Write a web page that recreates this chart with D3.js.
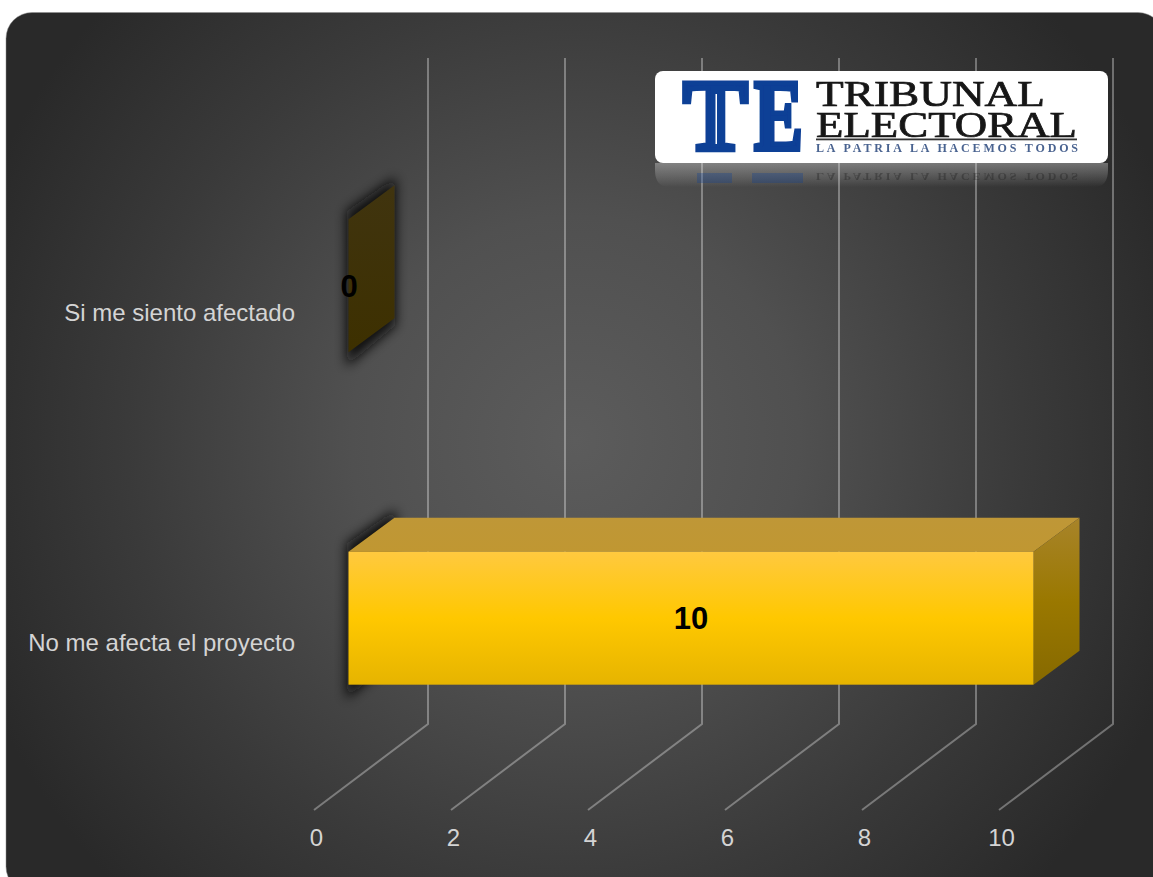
<!DOCTYPE html>
<html><head><meta charset="utf-8">
<script src="https://cdn.jsdelivr.net/npm/d3@7/dist/d3.min.js"></script>
<style>html,body{margin:0;padding:0;background:#fff;overflow:hidden}svg{display:block}</style>
</head><body><svg id="c" width="1153" height="877"></svg>
<script>
const categories = ["Si me siento afectado", "No me afecta el proyecto"];
const values = [0, 10];
const xTickValues = [0, 2, 4, 6, 8, 10];
const logoLines = ["TRIBUNAL", "ELECTORAL"];
const logoTagline = "LA PATRIA LA HACEMOS TODOS";

const svg = d3.select("#c");
const defs = svg.append("defs");
function grad(id, stops) {
  const g = defs.append("linearGradient").attr("id", id).attr("x1", 0).attr("y1", 0).attr("x2", 0).attr("y2", 1);
  stops.forEach(s => g.append("stop").attr("offset", s[0]).attr("stop-color", s[1]).attr("stop-opacity", s[2] ?? 1));
}
const bgG = defs.append("radialGradient").attr("id", "bg").attr("gradientUnits", "userSpaceOnUse")
  .attr("cx", 575).attr("cy", 440).attr("r", 640);
[[0, "#5c5c5c"], [0.35, "#505050"], [0.7, "#3a3a3a"], [1, "#292929"]].forEach(s => bgG.append("stop").attr("offset", s[0]).attr("stop-color", s[1]));
grad("front", [[0, "#ffc93f"], [0.5, "#ffc800"], [1, "#e6b400"]]);
grad("right", [[0, "#a8842a"], [0.5, "#9a7800"], [1, "#866900"]]);
grad("top", [[0, "#bf9737"], [1, "#c09732"]]);
grad("side", [[0, "#40340f"], [1, "#3d3000"]]);
defs.append("filter").attr("id", "blur").attr("x", "-80%").attr("y", "-50%").attr("width", "260%").attr("height", "200%")
  .append("feGaussianBlur").attr("stdDeviation", 6);
defs.append("filter").attr("id", "soft").append("feGaussianBlur").attr("stdDeviation", 0.4);

svg.append("rect").attr("x", 6).attr("y", 12.5).attr("width", 1158).attr("height", 880).attr("rx", 26)
  .attr("fill", "url(#bg)").attr("stroke", "#8c8c8c").attr("stroke-width", 0.5);

const barX0 = 348.5, plotW = 685;
const depthBar = { dx: 46, dy: -34 };
const x = d3.scaleLinear().domain([0, 10]).range([barX0, barX0 + plotW]);
const y = d3.scaleBand().domain(categories).range([119.6, 784.4]).paddingInner(0.6).paddingOuter(0.3);
const yLabels = d3.scaleBand().domain(categories).range([148, 808]).paddingInner(0.6).paddingOuter(0.3);

const gridBackTop = 58, gridBackBot = 724, gridFrontY = 810;
const gridFront = v => x(v) - 34.5, gridBack = v => x(v) + 79.5;
svg.append("g").selectAll("path").data(xTickValues).join("path")
  .attr("d", v => d3.line()([[gridFront(v), gridFrontY], [gridBack(v), gridBackBot], [gridBack(v), gridBackTop]]))
  .attr("fill", "none").attr("stroke", "#fff").attr("stroke-opacity", 0.33).attr("stroke-width", 2);

const axX = svg.append("g").attr("transform", `translate(-32.5,838)`)
  .call(d3.axisBottom(x).tickValues(xTickValues).tickSize(0).tickPadding(0).tickFormat(d3.format("d")));
axX.select(".domain").remove();
axX.selectAll("text").attr("dy", "0.35em");
const axY = svg.append("g").attr("transform", `translate(295,0)`)
  .call(d3.axisLeft(yLabels).tickSize(0).tickPadding(0));
axY.select(".domain").remove();
svg.selectAll("g text").attr("font-family", "'Liberation Sans',Arial,sans-serif").attr("font-size", 24).attr("fill", "#d4d4d4");

const poly = pts => d3.line()(pts) + "Z";
const rows = categories.map((c, i) => ({ c, v: values[i] }));
const bars = svg.append("g").selectAll("g").data(rows).join("g");
const bw = y.bandwidth(), D = depthBar;
const sidePts = d => {
  const t = y(d.c), l = x(0);
  return [[l, t], [l + D.dx, t + D.dy], [l + D.dx, t + bw + D.dy], [l, t + bw]];
};
bars.append("path").attr("d", d => {
    const p = sidePts(d);
    return poly([[p[0][0] - 2, p[0][1] - 8], [p[1][0] + 1, p[1][1] - 8], [p[2][0] + 1, p[2][1] + 7], [p[3][0] - 2, p[3][1] + 14]]);
  })
  .attr("fill", "#0c0c0c").attr("opacity", 0.95).attr("filter", "url(#blur)");
bars.append("path").attr("d", d => poly(sidePts(d))).attr("fill", "url(#side)");
const live = bars.filter(d => d.v > 0);
live.append("path").attr("fill", "url(#top)").attr("d", d => {
  const t = y(d.c), l = x(0), r = x(d.v);
  return poly([[l, t], [l + D.dx, t + D.dy], [r + D.dx, t + D.dy], [r, t]]);
});
live.append("path").attr("fill", "url(#right)").attr("d", d => {
  const t = y(d.c), r = x(d.v);
  return poly([[r, t], [r + D.dx, t + D.dy], [r + D.dx, t + bw + D.dy], [r, t + bw]]);
});
live.append("rect").attr("x", x(0)).attr("y", d => y(d.c)).attr("width", d => x(d.v) - x(0)).attr("height", bw).attr("fill", "url(#front)");
bars.append("text").text(d => d.v)
  .attr("x", d => (x(0) + x(d.v)) / 2 + (d.v ? 0 : 0.5)).attr("y", d => y(d.c) + bw / 2).attr("dy", "0.35em")
  .attr("text-anchor", "middle").attr("font-family", "'Liberation Sans',Arial,sans-serif").attr("font-weight", "bold").attr("font-size", 31).attr("fill", "#000");

// Logo
const LX = 655, LY = 71, LW = 453, LH = 92, blue = "#0f3f96";
const refl = svg.append("g");
grad("reflFade", [[0, "#e0e0e0", 0.38], [0.75, "#e0e0e0", 0.1], [1, "#e0e0e0", 0]]);
refl.append("path").attr("fill", "url(#reflFade)")
  .attr("d", `M${LX},163H${LX + LW}V170Q${LX + LW},187 ${LX + LW - 14},187H${LX + 14}Q${LX},187 ${LX},170Z`);
[[697, 35], [752, 51]].forEach(b => refl.append("rect").attr("x", b[0]).attr("y", 173).attr("width", b[1]).attr("height", 10).attr("fill", blue).attr("opacity", 0.3).attr("filter", "url(#soft)"));
refl.append("text").text(logoTagline).attr("transform", "translate(816,173) scale(1,-0.95)")
  .attr("font-family", "'Liberation Serif',serif").attr("font-weight", "bold").attr("font-size", 12).attr("fill", "#222").attr("opacity", 0.4)
  .attr("textLength", 262).attr("lengthAdjust", "spacing").attr("filter", "url(#soft)");

svg.append("rect").attr("x", LX).attr("y", LY).attr("width", LW).attr("height", LH).attr("rx", 8).attr("fill", "#fff");
const logo = svg.append("g").attr("filter", "url(#soft)");
const bigLetter = (t, xp, len) => logo.append("text").text(t).attr("x", xp).attr("y", 150)
  .attr("font-family", "'Liberation Serif',serif").attr("font-weight", "bold").attr("font-size", 102)
  .attr("fill", blue).attr("stroke", blue).attr("stroke-width", 5).attr("stroke-linejoin", "miter")
  .attr("textLength", len).attr("lengthAdjust", "spacingAndGlyphs");
bigLetter("T", 683, 65);
logo.append("rect").attr("x", 715.5).attr("y", 94).attr("width", 1.5).attr("height", 50).attr("fill", "#fff");
bigLetter("E", 754, 49);
logo.selectAll(null).data(logoLines).join("text").text(d => d)
  .attr("x", 816).attr("y", (d, i) => 105.5 + i * 31.5)
  .attr("font-family", "'Liberation Serif',serif").attr("font-size", 35).attr("fill", "#151515")
  .attr("stroke", "#151515").attr("stroke-width", 0.7)
  .attr("textLength", (d, i) => i ? 261 : 229).attr("lengthAdjust", "spacingAndGlyphs");
logo.append("rect").attr("x", 816).attr("y", 138.5).attr("width", 261).attr("height", 1.8).attr("fill", "#333");
logo.append("text").text(logoTagline).attr("x", 816).attr("y", 152)
  .attr("font-family", "'Liberation Serif',serif").attr("font-weight", "bold").attr("font-size", 12).attr("fill", "#4a6390")
  .attr("textLength", 262).attr("lengthAdjust", "spacing");
</script></body></html>
